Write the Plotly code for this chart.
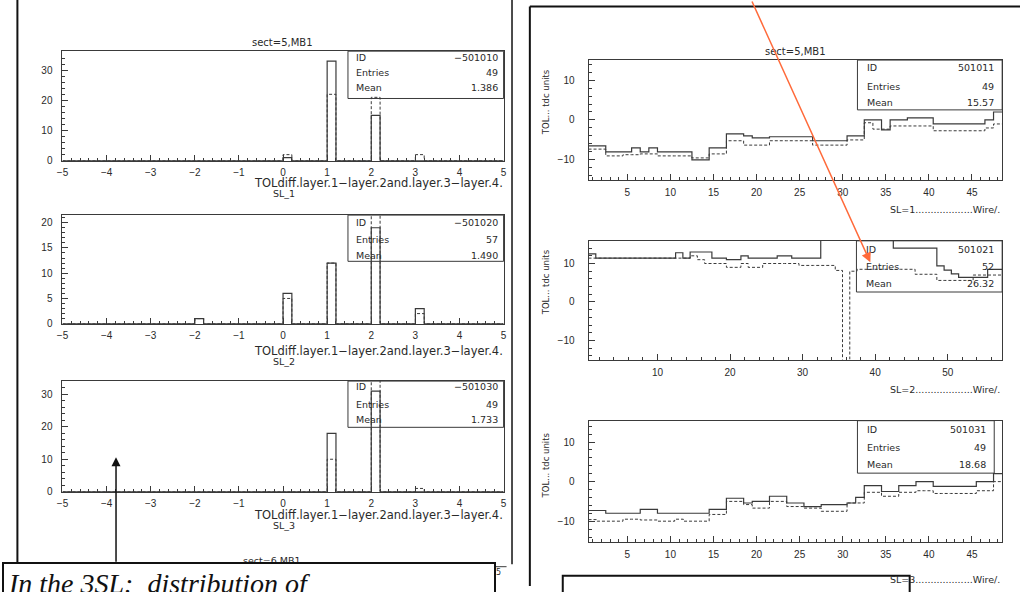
import plotly.graph_objects as go

W, H = 1023, 592


def px(x):
    return x / W


def py(y):
    return 1 - y / H


# ---------------- data ----------------
# left column: TDC-difference histograms, 50 bins of width 0.2 on [-5, 5]
bin_lo = -5.0
bin_w = 0.2
n_bins = 50

sl1_bins = [0, 1, 2, 3]          # lower edge of non-empty bins
sl1_solid = [1, 33, 15, 0]
sl1_dashed = [2, 22, 21, 2]

sl2_bins = [-2, 0, 1, 2, 3]
sl2_solid = [1, 6, 12, 19, 3]
sl2_dashed = [1, 5, 12, 35, 2]

sl3_bins = [1, 2, 3]
sl3_solid = [18, 31, 0]
sl3_dashed = [10, 40, 1]

left_ids = ["\u2212501010", "\u2212501020", "\u2212501030"]
left_entries = ["49", "57", "49"]
left_means = ["1.386", "1.490", "1.733"]
left_ymax = [36.3, 21.5, 34.1]
left_ydtick = [10, 5, 10]
left_yminor = [2, 1, 2]
left_xlabels = ["SL_1", "SL_2", "SL_3"]

# right column: TOL (tdc units) versus wire number
sl1_prof_solid = [-6.5, -6.5, -8, -8, -8, -7, -8, -7, -8, -8, -8, -8, -10, -10, -7, -7,
                  -3.5, -3.5, -4, -4.5, -4.5, -4.2, -4.2, -4.2, -4.2, -4.2, -5.2, -5.2,
                  -5.2, -5.2, -4, -4, 0, 0, -2.5, 0, 0, 0.5, 0.5, 0.5, -1, -1, -1, -1,
                  -1, -1, 0, 2]
sl1_prof_dashed = [-7.3, -7.3, -9, -9, -8.7, -8.7, -8.5, -8.5, -9, -9, -9, -9, -9.5, -9.5,
                   -8.5, -8.5, -5.2, -5.2, -6.3, -6.3, -6.3, -5.2, -5.2, -5.2, -5.2, -5.2,
                   -6.3, -6.3, -6.3, -6.3, -5, -5, -0.7, -2.3, -2.3, -1.5, -1.5, -1.5,
                   -1.5, -1.5, -2.7, -2.7, -2.7, -2.7, -2.7, -2.7, -2, -1]

sl2_prof_solid = [12.5, 11.4, 11.4, 11.4, 11.4, 11.4, 11.4, 11.4, 11.4, 11.4, 11.4, 11.4,
                  12.8, 11.4, 13, 13, 13, 11.4, 11.4, 11, 11, 12, 11.4, 11.4, 11.4, 11.4,
                  12, 12, 11.4, 11.4, 11.4, 11.4, 30, 30, 30, 30, 30, 30, 30, 30, 30, 30,
                  14, 14, 14, 14, 14, 14, 9.4, 8.3, 7.3, 6.4, 6.4, 6.4, 6.4, 8.5, 8.5]
sl2_prof_dashed = [11.4, 11.4, 11.4, 11.4, 11.4, 11.4, 11.4, 11.4, 11.4, 11.4, 11.4, 11.4,
                   11.4, 11.4, 12, 11, 10, 10, 10, 9, 9, 10, 9, 9, 10, 10, 10, 10, 10,
                   9.5, 9.5, 9.5, 9.5, 9.5, 8.2, -40, 8, 8.5, 8.5, 8.5, 8.5, 8.5, 8.5, 8.5,
                   8.5, 7.2, 7.2, 7.2, 5.6, 5.6, 5.6, 5.6, 5.6, 7, 7, 7, 7]

sl3_prof_solid = [-7.3, -7.3, -8, -8, -8, -8, -7, -7, -8, -8, -8, -8, -8, -8, -7, -7,
                  -4.2, -4.2, -5.4, -5, -5, -3.7, -3.7, -5.4, -5.4, -6.3, -6.3, -5.8, -5.8,
                  -5.8, -5.4, -4, -1, -1, -2.5, -2.5, -1, -1, 0, 0, -1.2, -1.2, -1.2, -1.2,
                  -1.2, 0, 0, 2]
sl3_prof_dashed = [-9.6, -10, -10, -10, -9.5, -9.5, -9.7, -9.7, -10, -10, -9.5, -10, -10,
                   -10, -8.3, -8.3, -5, -5, -5.8, -6.7, -6.7, -5, -5, -6.3, -6.3, -6.7,
                   -6.7, -7.5, -7.5, -7.5, -5.4, -5.4, -2.7, -2.7, -3.7, -3.7, -2.7, -2.7,
                   -2.3, -2.3, -3, -3, -3, -3, -3, -2.3, -2.3, 0]

right_ids = ["501011", "501021", "501031"]
right_entries = ["49", "52", "49"]
right_means = ["15.57", "26.32", "18.68"]
right_xlabels = ["SL=1...................Wire/.", "SL=2...................Wire/.",
                 "SL=3...................Wire/."]
right_yrange = [[-15, 15], [-15, 15.9], [-15.2, 15.4]]
right_xdtick = [5, 10, 5]
right_xminor = [1, 2, 1]

title_text = "sect=5,MB1"
ytitle_text = "TOL... tdc units"
xtitle_left = "TOLdiff.layer.1\u2212layer.2and.layer.3\u2212layer.4."
comment_text = "In the 3SL:  distribution of"

# ---------------- layout geometry (pixels) ----------------
left_x = (57, 502)
left_y = [(51.7, 162.3), (217.3, 327.0), (385.0, 496.7)]
right_x = (587.7, 1005)
right_y = [(60.7, 181.7), (243.3, 363.3), (425.0, 547.3)]

LINE = "#3a3a3a"
TXT = "#2a2a2a"
FONT = "Liberation Sans"
WFONT = "DejaVu Sans"

fig = go.Figure()


def full_hist(bins, counts):
    vals = [0.0] * n_bins
    for b, c in zip(bins, counts):
        idx = int(round((b - bin_lo) / bin_w))
        vals[idx] = c
    edges = [bin_lo + i * bin_w for i in range(n_bins + 1)]
    return edges, vals + [vals[-1]]


def prof_steps(vals):
    edges = [i + 0.5 for i in range(len(vals) + 1)]
    return edges, vals + [vals[-1]]


left_data = [(sl1_bins, sl1_solid, sl1_dashed), (sl2_bins, sl2_solid, sl2_dashed),
             (sl3_bins, sl3_solid, sl3_dashed)]
right_data = [(sl1_prof_solid, sl1_prof_dashed), (sl2_prof_solid, sl2_prof_dashed),
              (sl3_prof_solid, sl3_prof_dashed)]

for i, (bins, sol, das) in enumerate(left_data):
    ax = "" if i == 0 else str(i + 1)
    ex, ey = full_hist(bins, das)
    fig.add_trace(go.Scatter(x=ex, y=ey, mode="lines", line_shape="hv",
                             line=dict(color=LINE, width=1, dash="3px,2px"),
                             xaxis="x" + ax, yaxis="y" + ax, showlegend=False,
                             hoverinfo="skip"))
    ex, ey = full_hist(bins, sol)
    fig.add_trace(go.Scatter(x=ex, y=ey, mode="lines", line_shape="hv",
                             line=dict(color=LINE, width=1.2),
                             xaxis="x" + ax, yaxis="y" + ax, showlegend=False,
                             hoverinfo="skip"))

for i, (sol, das) in enumerate(right_data):
    ax = str(i + 4)
    ex, ey = prof_steps(das)
    fig.add_trace(go.Scatter(x=ex, y=ey, mode="lines", line_shape="hv",
                             line=dict(color=LINE, width=1, dash="3px,2px"),
                             xaxis="x" + ax, yaxis="y" + ax, showlegend=False,
                             hoverinfo="skip"))
    ex, ey = prof_steps(sol)
    fig.add_trace(go.Scatter(x=ex, y=ey, mode="lines", line_shape="hv",
                             line=dict(color=LINE, width=1.2),
                             xaxis="x" + ax, yaxis="y" + ax, showlegend=False,
                             hoverinfo="skip"))

axis_common = dict(showline=True, linecolor=LINE, linewidth=1, mirror=True,
                   ticks="inside", ticklen=6, tickwidth=1, tickcolor=LINE,
                   showgrid=False, zeroline=False,
                   tickfont=dict(family=FONT, size=10, color=TXT))

layout = dict(width=W, height=H, margin=dict(l=0, r=0, t=0, b=0), autosize=False,
              paper_bgcolor="white", plot_bgcolor="white", showlegend=False)

for i in range(3):
    n = "" if i == 0 else str(i + 1)
    y0, y1 = left_y[i]
    layout["xaxis" + n] = dict(axis_common, domain=[px(left_x[0]), px(left_x[1])],
                               anchor="y" + n, range=[-5, 5], tick0=0, dtick=1,
                               minor=dict(ticks="inside", ticklen=3, dtick=0.2,
                                          tick0=0, tickcolor=LINE, showgrid=False),
                               ticklabelstandoff=2)
    layout["yaxis" + n] = dict(axis_common, domain=[py(y1), py(y0)], anchor="x" + n,
                               range=[0, left_ymax[i]], tick0=0, dtick=left_ydtick[i],
                               minor=dict(ticks="inside", ticklen=3, dtick=left_yminor[i],
                                          tick0=0, tickcolor=LINE, showgrid=False),
                               ticklabelstandoff=7)

for i in range(3):
    n = str(i + 4)
    y0, y1 = right_y[i]
    nw = len(right_data[i][0])
    layout["xaxis" + n] = dict(axis_common, domain=[px(right_x[0]), px(right_x[1])],
                               anchor="y" + n, range=[0.5, nw + 0.5], tick0=0,
                               dtick=right_xdtick[i],
                               minor=dict(ticks="inside", ticklen=3, dtick=right_xminor[i],
                                          tick0=0, tickcolor=LINE, showgrid=False),
                               ticklabelstandoff=3)
    layout["yaxis" + n] = dict(axis_common, domain=[py(y1), py(y0)], anchor="x" + n,
                               range=right_yrange[i], tick0=0, dtick=10,
                               minor=dict(ticks="inside", ticklen=3, dtick=2,
                                          tick0=0, tickcolor=LINE, showgrid=False),
                               ticklabelstandoff=11)

fig.update_layout(**layout)

ann = []
shapes = []


def txt(x, y, s, size=9, xanchor="left", yanchor="middle", angle=0, color=TXT,
        family=WFONT):
    ann.append(dict(x=px(x), y=py(y), xref="paper", yref="paper", text=s,
                    showarrow=False, xanchor=xanchor, yanchor=yanchor, textangle=angle,
                    font=dict(family=family, size=size, color=color)))


def rect(x0, y0, x1, y1, color=LINE, width=1):
    shapes.append(dict(type="rect", xref="paper", yref="paper", x0=px(x0), x1=px(x1),
                       y0=py(y1), y1=py(y0), line=dict(color=color, width=width),
                       fillcolor="rgba(0,0,0,0)", layer="above"))


def line(x0, y0, x1, y1, color="#111", width=2):
    shapes.append(dict(type="line", xref="paper", yref="paper", x0=px(x0), x1=px(x1),
                       y0=py(y0), y1=py(y1), line=dict(color=color, width=width),
                       layer="above"))


# outer frames
line(11.5, 0, 11.5, 570)
line(510.5, 0, 510.5, 570, width=1.5)
line(528.5, 6.5, 528.5, 592)
line(528.5, 6.5, 1023, 6.5)

# titles
txt(279, 42.7, title_text, size=10, xanchor="center")
txt(797, 51.7, title_text, size=10, xanchor="center")

# left stats boxes and x titles
left_stat_boxes = [(51.7, 99.5), (217.3, 264.0), (385.0, 431.7)]
left_rows = [(58.3, 73.3, 88.3), (225.0, 242.3, 258.3), (390.0, 408.3, 423.3)]
left_xt = [(185.0, 195.0), (355.0, 365.0), (520.5, 530.5)]
for i in range(3):
    b0, b1 = left_stat_boxes[i]
    rect(345, b0, 502, b1)
    r = left_rows[i]
    txt(351, r[0], "ID", size=9.5)
    txt(351, r[1], "Entries", size=9.5)
    txt(351, r[2], "Mean", size=9.5)
    txt(498, r[0], left_ids[i], size=9.5, xanchor="right")
    txt(498, r[1], left_entries[i], size=9.5, xanchor="right")
    txt(498, r[2], left_means[i], size=9.5, xanchor="right")
    txt(503, left_xt[i][0], xtitle_left, size=11.5, xanchor="right")
    txt(267, left_xt[i][1], left_xlabels[i], size=9.5)

# right stats boxes, y titles, x titles
right_stat_boxes = [(859, 60.7, 1005, 111.0), (858, 243.3, 1005, 295.0),
                    (859, 425.0, 997, 478.0)]
right_rows = [(68.3, 87.3, 103.3), (251.7, 269.3, 286.7), (434.0, 451.7, 469.3)]
right_xt = [211.7, 393.3, 585.0]
right_yt = [103, 285, 470]
for i in range(3):
    x0, b0, x1, b1 = right_stat_boxes[i]
    rect(x0, b0, x1, b1)
    r = right_rows[i]
    txt(x0 + 8, r[0], "ID", size=9.5)
    txt(x0 + 8, r[1], "Entries", size=9.5)
    txt(x0 + 8, r[2], "Mean", size=9.5)
    txt(x1 - 6, r[0], right_ids[i], size=9.5, xanchor="right")
    txt(x1 - 6, r[1], right_entries[i], size=9.5, xanchor="right")
    txt(x1 - 6, r[2], right_means[i], size=9.5, xanchor="right")
    txt(1005, right_xt[i], right_xlabels[i], size=9.5, xanchor="right")
    txt(545, right_yt[i], ytitle_text, size=8.5, xanchor="center", angle=-90)

# bottom right empty box
rect(561.7, 581.7, 911.7, 600, color="#111", width=2)

# pieces of the next page row, partly covered
txt(268, 566, "sect=6,MB1", size=9.5, xanchor="center")
txt(494, 578, "15", size=8, xanchor="center")
line(487, 572.5, 505, 572.5, color=LINE, width=1)

# bottom-left comment box (covers what lies beneath)
ann.append(dict(x=px(-4), y=py(568), xref="paper", yref="paper",
                text="<i>" + comment_text + "</i>", showarrow=False,
                xanchor="left", yanchor="top", align="left", valign="top",
                width=482, height=40, borderpad=4, borderwidth=2,
                bordercolor="#111", bgcolor="white",
                font=dict(family="Liberation Serif", size=28, color="#111")))

# arrows
ann.append(dict(x=px(111), y=py(462), xref="paper", yref="paper", text="",
                showarrow=True, arrowhead=2, arrowsize=1.2, arrowwidth=1.5,
                arrowcolor="#111", ax=0, ay=106, standoff=0))
ann.append(dict(x=px(872), y=py(265), xref="paper", yref="paper", text="",
                showarrow=True, arrowhead=2, arrowsize=1.3, arrowwidth=1.5,
                arrowcolor="#ff6a3a", ax=-119, ay=-268, standoff=0))

fig.update_layout(annotations=ann, shapes=shapes)
fig.write_html("out.html", config={"displayModeBar": False},
               post_script="document.body.style.margin='0px';"
                           "document.documentElement.style.overflow='hidden';")
